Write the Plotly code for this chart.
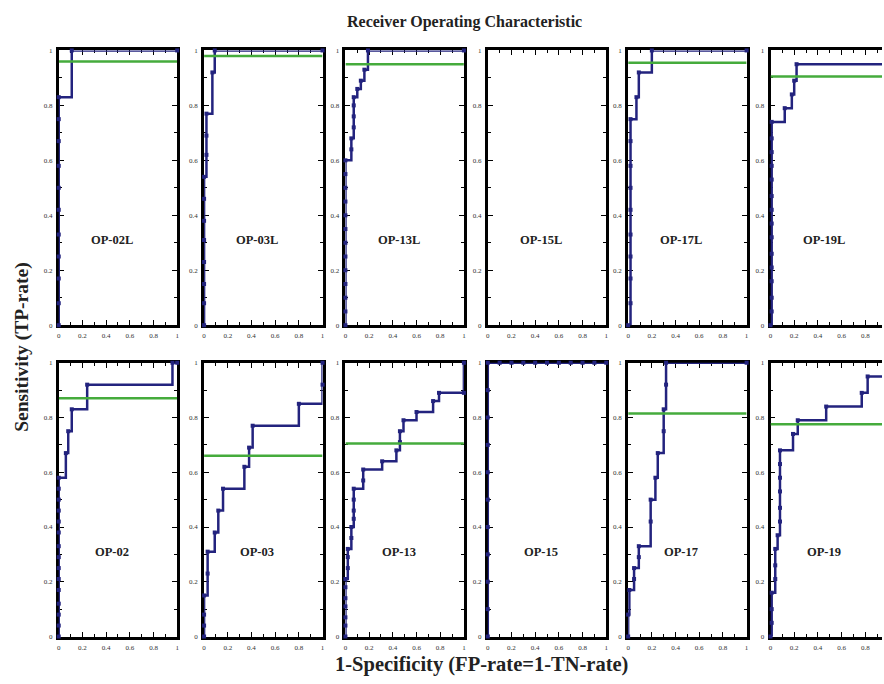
import plotly.graph_objects as go

# ---------------- data ----------------
panel_names = ["OP-02L", "OP-03L", "OP-13L", "OP-15L", "OP-17L", "OP-19L",
               "OP-02", "OP-03", "OP-13", "OP-15", "OP-17", "OP-19"]

fpr_02L = [0, 0, 0, 0, 0, 0, 0, 0, 0, 0, 0, 0.11, 1]
tpr_02L = [0, 0.08, 0.17, 0.25, 0.33, 0.42, 0.5, 0.58, 0.67, 0.75, 0.83, 1, 1]

fpr_03L = [0, 0, 0, 0, 0, 0, 0, 0, 0.02, 0.02, 0.02, 0.07, 0.09, 1]
tpr_03L = [0, 0.08, 0.15, 0.23, 0.31, 0.38, 0.46, 0.54, 0.62, 0.69, 0.77, 0.92, 1, 1]

fpr_13L = [0, 0, 0, 0, 0, 0, 0, 0, 0, 0, 0, 0, 0, 0.05, 0.05, 0.07, 0.07, 0.07, 0.07, 0.1, 0.13, 0.16, 0.19, 1]
tpr_13L = [0, 0.05, 0.1, 0.15, 0.2, 0.25, 0.3, 0.35, 0.4, 0.45, 0.5, 0.55, 0.6, 0.64, 0.68, 0.72, 0.76, 0.8, 0.83, 0.86, 0.89, 0.93, 1, 1]

fpr_15L = []
tpr_15L = []

fpr_17L = [0, 0.02, 0.02, 0.02, 0.02, 0.02, 0.02, 0.02, 0.02, 0.02, 0.07, 0.09, 0.2, 1]
tpr_17L = [0, 0.08, 0.17, 0.25, 0.33, 0.42, 0.5, 0.58, 0.67, 0.75, 0.83, 0.92, 1, 1]

fpr_19L = [0, 0.01, 0.01, 0.01, 0.01, 0.01, 0.01, 0.01, 0.01, 0.01, 0.01, 0.01, 0.01, 0.01, 0.01, 0.12, 0.18, 0.2, 0.22, 1, 1]
tpr_19L = [0, 0.05, 0.1, 0.16, 0.21, 0.26, 0.32, 0.37, 0.42, 0.47, 0.53, 0.58, 0.63, 0.68, 0.74, 0.79, 0.84, 0.89, 0.95, 0.95, 1]

fpr_02 = [0, 0, 0, 0, 0, 0, 0, 0, 0, 0, 0, 0, 0, 0, 0, 0.06, 0.08, 0.11, 0.24, 0.96, 1]
tpr_02 = [0, 0.04, 0.08, 0.12, 0.17, 0.21, 0.25, 0.29, 0.33, 0.38, 0.42, 0.46, 0.5, 0.54, 0.58, 0.67, 0.75, 0.83, 0.92, 1, 1]

fpr_03 = [0, 0, 0, 0, 0.03, 0.03, 0.09, 0.12, 0.16, 0.34, 0.38, 0.41, 0.8, 1, 1]
tpr_03 = [0, 0.04, 0.08, 0.15, 0.23, 0.31, 0.38, 0.46, 0.54, 0.62, 0.69, 0.77, 0.85, 0.92, 1]

fpr_13 = [0, 0, 0, 0, 0, 0, 0, 0.02, 0.02, 0.02, 0.05, 0.05, 0.07, 0.07, 0.07, 0.07, 0.15, 0.15, 0.31, 0.43, 0.46, 0.46, 0.49, 0.6, 0.74, 0.79, 1, 1]
tpr_13 = [0, 0.04, 0.07, 0.11, 0.14, 0.18, 0.21, 0.25, 0.29, 0.32, 0.36, 0.4, 0.43, 0.46, 0.5, 0.54, 0.57, 0.61, 0.64, 0.68, 0.71, 0.75, 0.79, 0.82, 0.86, 0.89, 0.89, 1]

fpr_15 = [0, 0, 0, 0, 0, 0, 0, 0, 0, 0, 0, 0.1, 0.2, 0.3, 0.4, 0.5, 0.6, 0.7, 0.8, 0.9, 1]
tpr_15 = [0, 0.1, 0.2, 0.3, 0.4, 0.5, 0.6, 0.7, 0.8, 0.9, 1, 1, 1, 1, 1, 1, 1, 1, 1, 1, 1]

fpr_17 = [0, 0, 0.01, 0.05, 0.05, 0.09, 0.09, 0.19, 0.19, 0.23, 0.25, 0.3, 0.3, 0.32, 0.32, 1]
tpr_17 = [0, 0.08, 0.17, 0.21, 0.25, 0.29, 0.33, 0.42, 0.5, 0.58, 0.67, 0.75, 0.83, 0.92, 1, 1]

fpr_19 = [0, 0.01, 0.01, 0.01, 0.04, 0.04, 0.04, 0.06, 0.08, 0.08, 0.08, 0.08, 0.08, 0.08, 0.19, 0.23, 0.47, 0.77, 0.82, 1, 1]
tpr_19 = [0, 0.05, 0.1, 0.16, 0.21, 0.26, 0.32, 0.37, 0.42, 0.47, 0.53, 0.58, 0.63, 0.68, 0.74, 0.79, 0.84, 0.89, 0.95, 0.95, 1]

fpr_all = [fpr_02L, fpr_03L, fpr_13L, fpr_15L, fpr_17L, fpr_19L,
           fpr_02, fpr_03, fpr_13, fpr_15, fpr_17, fpr_19]
tpr_all = [tpr_02L, tpr_03L, tpr_13L, tpr_15L, tpr_17L, tpr_19L,
           tpr_02, tpr_03, tpr_13, tpr_15, tpr_17, tpr_19]

# green horizontal reference level per panel (None = not visible)
green_level = [0.96, 0.98, 0.95, None, 0.955, 0.905,
               0.87, 0.66, 0.705, None, 0.815, 0.775]

tick_vals = [0, 0.2, 0.4, 0.6, 0.8, 1]
tick_text = ["0", "0.2", "0.4", "0.6", "0.8", "1"]

# ---------------- layout geometry ----------------
W, H = 884, 684
panel_left_px = [57, 203, 345, 488, 629, 772]
panel_w_px = 119
row_top_px = [(47, 325), (363, 640)]

SERIF = "Liberation Serif"
NAVY = "#23237e"
GREEN = "#45ab3c"

fig = go.Figure()
layout = dict(
    width=W, height=H,
    margin=dict(l=0, r=0, t=0, b=0),
    paper_bgcolor="white", plot_bgcolor="white",
    showlegend=False,
    font=dict(family=SERIF, color="black"),
)
annotations = []

for i in range(12):
    r, c = divmod(i, 6)
    n = i + 1
    xa = "xaxis" if n == 1 else f"xaxis{n}"
    ya = "yaxis" if n == 1 else f"yaxis{n}"
    xr = "x" if n == 1 else f"x{n}"
    yr = "y" if n == 1 else f"y{n}"
    left = panel_left_px[c]
    right = left + panel_w_px
    xmax = 1.0
    last = (c == 5)
    if right > W:
        xmax = (W - left) / panel_w_px
        right = W
    top, bot = row_top_px[r]
    common = dict(
        showline=True, linewidth=2.8, linecolor="black",
        ticks="inside", ticklen=5, tickwidth=1.4, tickcolor="black",
        showgrid=False, zeroline=False, layer="below traces",
        tickfont=dict(size=7, family=SERIF, color="#333"),
        minor=dict(dtick=0.1, ticks="inside", ticklen=3, tickwidth=1.2, tickcolor="black", showgrid=False),
        fixedrange=True,
        tickmode="array", tickvals=tick_vals, ticktext=tick_text,
    )
    layout[xa] = dict(common, domain=[left / W, right / W], range=[0, xmax],
                      anchor=yr, mirror="ticks", ticklabelstandoff=2)
    layout[ya] = dict(common, domain=[1 - bot / H, 1 - top / H], range=[0, 1],
                      anchor=xr, mirror=(False if last else "ticks"), ticklabelstandoff=2)

    if fpr_all[i]:
        fig.add_trace(go.Scatter(
            x=fpr_all[i], y=tpr_all[i], xaxis=xr, yaxis=yr,
            mode="lines+markers", line=dict(color=NAVY, width=2.5, shape="hv"),
            marker=dict(color=NAVY, size=4, symbol="square"),
            cliponaxis=False, hoverinfo="skip"))
    if green_level[i] is not None:
        fig.add_trace(go.Scatter(
            x=[0, 1], y=[green_level[i], green_level[i]], xaxis=xr, yaxis=yr,
            mode="lines", line=dict(color=GREEN, width=2.5), hoverinfo="skip"))

    annotations.append(dict(
        text=f"<b>{panel_names[i]}</b>", x=0.45, y=0.31, xref=xr, yref=yr,
        showarrow=False, font=dict(size=12.5, family=SERIF, color="#222"),
        xanchor="center", yanchor="middle"))

annotations += [
    dict(text="<b>Receiver Operating Characteristic</b>", x=465 / W, y=1 - 18 / H,
         xref="paper", yref="paper", showarrow=False,
         font=dict(size=16, family=SERIF, color="#222"), xanchor="center", yanchor="middle"),
    dict(text="<b>Sensitivity (TP-rate)</b>", x=20 / W, y=1 - 347 / H,
         xref="paper", yref="paper", showarrow=False, textangle=-90,
         font=dict(size=19.5, family=SERIF, color="#222"), xanchor="center", yanchor="middle"),
    dict(text="<b>1-Specificity (FP-rate=1-TN-rate)</b>", x=482 / W, y=1 - 668 / H,
         xref="paper", yref="paper", showarrow=False,
         font=dict(size=20.5, family=SERIF, color="#222"), xanchor="center", yanchor="middle"),
]
layout["annotations"] = annotations
fig.update_layout(**layout)

fig.write_html("out.html", config={"displayModeBar": False},
               post_script="document.body.style.margin='0';document.body.style.overflow='hidden';")
